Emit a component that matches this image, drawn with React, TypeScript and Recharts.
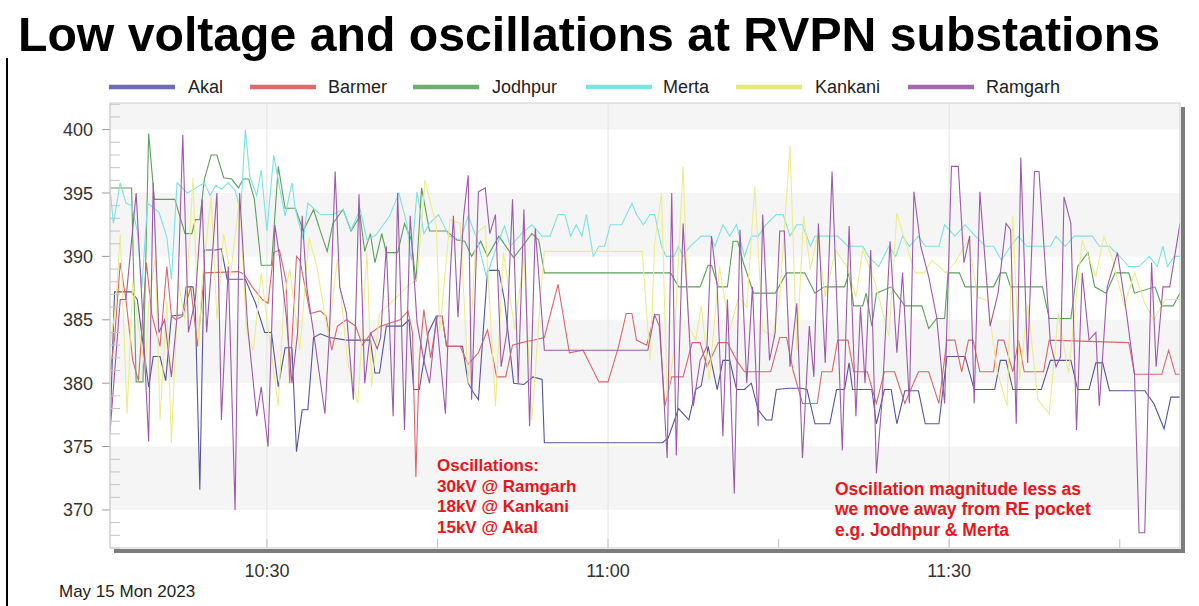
import React from "react";
import { LineChart, Line, XAxis, YAxis, ReferenceArea, ReferenceLine } from "recharts";

const FONT = "'Liberation Sans', Arial, Helvetica, sans-serif";

// time in minutes after 10:00, value in kV
const akal: [number, number][] = [
  [16.2, 376.3], [16.6, 387.2], [18.1, 387.2], [18.6, 386.6], [19.6, 379.7], [20.0, 382.1], [20.6, 382.1], [21.1, 380.2],
  [21.6, 385.3], [22.6, 385.4], [22.9, 387.6], [23.5, 387.6], [23.7, 385.9], [24.1, 371.6], [24.5, 390.5], [25.5, 390.5],
  [26.0, 390.6], [26.5, 388.2], [28.1, 388.2], [29.0, 386.3], [29.8, 384.0], [30.4, 384.0], [31.0, 379.7], [31.6, 382.8],
  [32.2, 382.8], [32.6, 374.6], [33.1, 377.9], [33.6, 377.9], [34.1, 383.6], [34.7, 383.9], [35.5, 383.6], [37.0, 383.4],
  [39.1, 383.4], [39.5, 380.8], [39.9, 380.8], [40.5, 384.5], [41.9, 384.5], [42.5, 385.0], [42.9, 379.5], [43.4, 379.5],
  [44.2, 384.0], [44.9, 385.3], [45.4, 385.3], [45.8, 382.9], [47.2, 382.9], [47.7, 380.0], [48.2, 379.2], [48.6, 378.7],
  [49.4, 388.9], [50.4, 388.9], [50.9, 386.5], [51.7, 380.0], [52.6, 379.9], [53.4, 380.5], [54.2, 380.3], [54.4, 375.3],
  [64.8, 375.3], [65.3, 375.7], [66.2, 378.0], [67.1, 377.1], [67.7, 379.5], [68.2, 379.8], [68.8, 382.9], [69.6, 379.5],
  [70.1, 381.8], [70.7, 381.8], [71.3, 379.5], [72.0, 379.5], [72.6, 380.0], [73.2, 377.9], [73.9, 377.1], [74.4, 377.1],
  [74.8, 379.5], [75.9, 379.6], [77.0, 379.6], [77.5, 379.5], [78.2, 376.8], [79.5, 376.8], [80.1, 379.5], [80.8, 379.5],
  [81.2, 381.6], [81.5, 379.5], [83.2, 379.5], [83.6, 376.8], [84.3, 379.5], [84.9, 379.5], [85.4, 376.8], [86.1, 379.4],
  [87.3, 379.4], [87.9, 376.8], [89.1, 376.8], [89.8, 382.1], [91.4, 382.1], [92.2, 379.5], [94.0, 379.5], [94.5, 381.8],
  [95.0, 381.8], [95.6, 379.5], [98.1, 379.5], [98.9, 381.8], [100.7, 381.8], [101.3, 379.5], [102.3, 379.5], [102.9, 381.6],
  [103.5, 381.6], [104.1, 379.4], [107.2, 379.4], [108.0, 378.4], [108.9, 376.4], [109.5, 378.9], [110.3, 378.9],
];

const barmer: [number, number][] = [
  [16.2, 380.8], [16.6, 383.5], [17.1, 389.5], [17.6, 386.6], [18.2, 381.8], [18.7, 380.2], [19.4, 389.5], [19.9, 385.3],
  [20.6, 382.9], [21.2, 389.2], [21.6, 385.3], [22.0, 385.0], [22.6, 385.3], [23.3, 387.6], [23.9, 382.9], [24.5, 388.7],
  [27.5, 388.8], [28.0, 388.6], [28.7, 387.6], [29.6, 386.6], [30.1, 386.3], [30.6, 390.3], [31.1, 390.5], [31.7, 388.0],
  [32.0, 380.0], [32.6, 390.0], [32.9, 389.7], [33.8, 385.5], [34.7, 385.7], [35.2, 385.3], [35.7, 382.6], [36.2, 384.5],
  [37.0, 385.0], [37.8, 384.5], [38.4, 383.0], [39.2, 384.0], [40.0, 384.5], [41.7, 385.0], [42.4, 385.7], [42.8, 384.0],
  [43.1, 372.6], [43.4, 381.8], [43.8, 385.8], [44.4, 382.0], [45.0, 385.3], [45.4, 385.3], [45.8, 382.9], [47.0, 382.9],
  [47.7, 381.5], [48.6, 382.4], [49.4, 384.2], [50.2, 380.5], [51.0, 380.5], [51.6, 383.0], [52.4, 383.2], [53.5, 383.4],
  [54.4, 383.6], [55.6, 387.8], [56.6, 382.4], [57.8, 382.6], [59.2, 380.1], [60.0, 380.1], [60.9, 382.8], [61.6, 385.5],
  [62.1, 385.5], [62.5, 383.4], [63.4, 383.0], [64.1, 385.4], [64.5, 384.5], [65.0, 378.2], [65.6, 380.5], [66.6, 380.5],
  [67.4, 383.2], [68.1, 383.2], [68.7, 381.3], [69.7, 383.2], [70.5, 383.2], [71.3, 381.8], [72.0, 380.9], [74.3, 380.9],
  [75.1, 383.6], [75.7, 383.6], [76.3, 380.9], [77.1, 378.4], [78.4, 378.4], [78.8, 380.9], [79.7, 380.9], [80.2, 383.4],
  [81.1, 383.4], [81.6, 380.9], [82.8, 380.9], [83.6, 378.4], [84.3, 380.9], [85.2, 380.9], [86.1, 378.4], [87.3, 380.9],
  [88.2, 380.9], [89.1, 378.4], [89.8, 383.4], [90.5, 383.4], [91.1, 380.9], [91.7, 383.4], [92.1, 383.4], [92.7, 380.9],
  [93.9, 380.9], [94.3, 383.4], [94.8, 383.4], [95.6, 380.9], [96.1, 383.4], [96.6, 380.9], [98.3, 380.9], [98.8, 383.4],
  [105.8, 383.2], [106.3, 380.7], [108.7, 380.7], [109.3, 382.6], [109.9, 380.7], [110.3, 380.7],
];

const jodhpur: [number, number][] = [
  [16.2, 395.4], [18.1, 395.4], [18.5, 380.1], [19.1, 380.1], [19.6, 399.7], [20.1, 394.5], [21.9, 394.5], [22.8, 391.8],
  [23.4, 391.8], [23.7, 392.9], [24.1, 392.9], [24.5, 396.1], [25.1, 398.0], [25.6, 398.0], [26.2, 396.2], [26.9, 396.1],
  [27.5, 395.4], [27.9, 396.1], [28.4, 396.1], [28.9, 394.5], [29.5, 389.3], [30.4, 389.3], [31.0, 397.1], [31.6, 393.8],
  [32.5, 393.8], [33.2, 392.0], [34.1, 393.7], [34.7, 392.0], [35.3, 390.4], [35.8, 392.6], [36.7, 393.7], [37.4, 392.0],
  [38.2, 393.2], [38.6, 390.4], [39.1, 391.8], [39.5, 389.5], [40.1, 391.8], [40.5, 390.3], [41.5, 390.3], [42.1, 392.6],
  [42.7, 391.3], [43.1, 388.0], [43.6, 395.4], [44.3, 392.0], [45.8, 392.0], [46.7, 391.3], [47.4, 391.2], [48.0, 390.0],
  [48.8, 391.2], [49.4, 390.0], [50.4, 391.6], [51.7, 389.9], [52.4, 390.7], [53.3, 391.8], [53.9, 391.3], [54.4, 388.7],
  [65.5, 388.7], [66.2, 387.6], [68.1, 387.6], [68.8, 389.3], [69.1, 389.3], [69.7, 387.6], [70.5, 387.6], [71.0, 391.2],
  [71.4, 391.2], [71.9, 389.5], [72.8, 387.1], [74.7, 387.1], [75.7, 388.7], [77.3, 388.7], [78.2, 387.1], [79.0, 387.6],
  [80.8, 387.6], [81.2, 388.7], [81.6, 386.1], [82.4, 386.1], [82.7, 387.1], [83.2, 384.5], [83.6, 387.1], [84.9, 387.6],
  [86.1, 386.1], [87.6, 386.1], [88.2, 384.3], [88.9, 385.1], [89.6, 385.1], [89.9, 388.7], [90.9, 388.7], [91.4, 387.6],
  [93.9, 387.6], [94.5, 388.7], [95.0, 388.7], [95.4, 387.6], [98.2, 387.6], [98.8, 385.1], [100.7, 385.1], [101.3, 389.2],
  [102.2, 390.3], [102.8, 387.6], [103.8, 387.1], [104.6, 388.7], [105.8, 388.7], [106.3, 387.1], [108.1, 387.6], [108.7, 386.1],
  [109.7, 386.1], [110.3, 387.1],
];

const merta: [number, number][] = [
  [16.2, 395.4], [16.5, 392.6], [17.1, 395.8], [17.6, 394.2], [18.1, 394.0], [18.6, 392.0], [19.0, 387.5], [19.5, 394.2],
  [20.5, 393.5], [21.2, 391.5], [21.6, 388.2], [22.1, 395.8], [23.0, 395.0], [24.5, 395.8], [25.0, 394.8], [25.5, 395.6],
  [26.0, 395.3], [26.6, 395.8], [27.2, 395.2], [27.7, 393.6], [28.1, 400.0], [28.5, 396.3], [29.1, 394.8], [29.5, 396.8],
  [30.0, 392.0], [30.6, 398.0], [31.1, 395.5], [31.6, 393.2], [32.2, 395.8], [32.5, 393.7], [33.2, 391.3], [33.6, 394.2],
  [34.7, 393.3], [35.8, 393.3], [36.7, 393.7], [37.4, 392.1], [38.2, 393.7], [38.8, 391.3], [39.6, 391.7], [40.8, 393.2],
  [41.6, 395.0], [42.3, 392.6], [42.7, 389.7], [43.2, 395.1], [43.8, 391.8], [44.3, 392.6], [45.1, 393.3], [46.0, 391.6],
  [47.0, 391.3], [47.7, 393.2], [48.5, 391.3], [49.3, 388.4], [50.4, 391.3], [50.9, 392.4], [51.4, 390.8], [52.4, 391.8],
  [53.3, 392.5], [54.2, 391.6], [54.9, 391.6], [55.6, 393.3], [56.2, 393.3], [56.7, 391.6], [57.2, 392.5], [57.7, 391.6],
  [58.1, 393.3], [58.7, 390.0], [59.2, 390.8], [59.7, 390.8], [60.2, 392.5], [61.2, 392.5], [62.1, 394.2], [62.5, 393.3],
  [63.1, 392.5], [63.7, 393.3], [64.1, 393.3], [64.7, 390.8], [65.1, 390.0], [65.8, 390.0], [66.2, 390.8], [66.6, 390.0],
  [67.2, 390.8], [68.2, 391.6], [69.0, 391.6], [69.4, 390.8], [70.1, 392.5], [70.7, 391.6], [71.3, 392.5], [72.0, 390.0],
  [72.6, 391.6], [73.2, 391.6], [73.9, 392.5], [74.8, 393.3], [75.4, 393.3], [76.0, 391.6], [76.6, 392.5], [77.1, 392.5],
  [77.8, 390.8], [78.2, 391.6], [80.2, 391.6], [81.1, 390.8], [82.4, 390.8], [82.9, 390.0], [83.8, 389.2], [84.7, 390.8],
  [85.3, 390.0], [85.9, 391.6], [86.5, 390.8], [87.3, 391.6], [87.9, 390.8], [89.1, 390.8], [89.6, 392.5], [90.5, 391.6],
  [91.4, 392.5], [92.3, 391.6], [93.2, 390.8], [93.9, 390.8], [94.6, 389.7], [95.4, 390.8], [96.1, 391.6], [96.8, 390.8],
  [98.9, 390.8], [99.4, 391.6], [100.2, 390.8], [101.0, 391.6], [102.6, 391.6], [103.2, 390.8], [104.1, 390.8], [105.0, 390.0],
  [105.8, 389.2], [106.7, 389.2], [107.6, 390.0], [108.3, 389.2], [108.8, 390.8], [109.2, 389.2], [109.8, 390.0], [110.3, 390.0],
];

const kankani: [number, number][] = [
  [16.2, 383.0], [16.7, 386.0], [17.1, 391.8], [17.7, 377.6], [18.2, 388.0], [18.7, 384.5], [19.3, 381.0], [19.6, 386.2],
  [20.2, 390.0], [20.6, 377.1], [21.2, 386.5], [21.6, 375.3], [22.2, 388.0], [22.8, 385.0], [23.5, 396.2], [24.0, 383.0],
  [24.3, 388.2], [25.1, 394.7], [25.6, 385.0], [26.2, 391.8], [26.8, 388.5], [27.6, 394.7], [28.2, 384.0], [28.8, 382.6],
  [29.5, 388.7], [30.0, 385.0], [31.0, 378.2], [31.5, 386.6], [32.0, 389.0], [32.9, 382.6], [33.7, 391.5], [34.4, 389.2],
  [35.4, 383.7], [36.2, 389.8], [37.1, 381.6], [38.0, 378.4], [38.8, 390.3], [39.2, 379.7], [39.9, 385.5], [41.2, 386.6],
  [42.3, 387.6], [43.2, 388.2], [43.9, 396.0], [44.9, 392.4], [45.2, 384.0], [46.1, 392.9], [47.0, 392.6], [47.7, 380.0],
  [48.4, 391.8], [49.2, 392.4], [50.1, 378.2], [50.8, 390.3], [51.8, 384.2], [52.6, 390.0], [53.3, 377.1], [54.0, 386.0],
  [54.4, 390.4], [63.0, 390.4], [63.7, 381.8], [64.1, 391.0], [64.7, 395.0], [65.2, 378.7], [65.8, 382.6], [66.6, 397.1],
  [67.1, 384.5], [67.7, 383.4], [68.2, 386.1], [68.9, 380.3], [69.8, 389.2], [70.7, 384.2], [71.5, 386.8], [72.2, 386.0],
  [72.9, 395.5], [73.6, 384.2], [74.5, 383.7], [75.1, 386.8], [76.0, 398.7], [76.6, 382.6], [77.2, 393.2], [77.8, 389.0],
  [78.4, 391.6], [79.1, 386.8], [80.0, 390.5], [81.0, 389.2], [81.8, 386.8], [82.4, 390.5], [83.4, 388.2], [84.7, 383.7],
  [85.4, 393.4], [86.1, 391.3], [87.0, 388.7], [87.8, 388.7], [88.5, 389.7], [89.7, 388.7], [90.5, 389.5], [91.7, 391.3],
  [92.5, 386.8], [93.4, 386.5], [94.2, 381.0], [95.1, 378.2], [95.6, 393.2], [96.2, 380.3], [96.9, 386.2], [97.8, 378.7],
  [98.8, 377.6], [99.6, 385.5], [100.5, 380.8], [101.7, 391.3], [102.9, 388.4], [103.6, 391.6], [104.3, 390.0], [105.4, 386.1],
  [106.3, 388.7], [107.2, 386.3], [108.0, 385.0], [109.0, 386.6], [110.3, 386.6],
];

const ramgarh: [number, number][] = [
  [16.2, 376.1], [17.1, 386.6], [17.6, 386.6], [18.5, 395.0], [19.0, 386.6], [19.6, 375.4], [20.0, 395.8], [20.5, 384.0],
  [21.0, 385.0], [21.6, 380.5], [22.1, 385.3], [22.6, 399.6], [23.1, 384.0], [23.7, 386.6], [24.3, 394.5], [24.7, 384.0],
  [25.6, 395.0], [26.0, 377.1], [26.6, 389.2], [27.2, 370.0], [27.6, 395.0], [28.3, 384.5], [29.1, 377.4], [29.5, 379.7],
  [30.1, 375.0], [30.7, 392.5], [31.1, 390.0], [31.7, 385.3], [32.2, 380.0], [32.7, 384.0], [33.1, 393.2], [33.5, 387.6],
  [34.1, 384.0], [35.1, 377.6], [35.5, 384.0], [36.0, 396.7], [36.4, 387.6], [37.0, 385.5], [37.6, 378.7], [38.1, 394.9],
  [38.6, 380.0], [39.1, 384.0], [39.7, 382.7], [40.0, 383.6], [40.5, 390.8], [41.1, 377.4], [41.5, 395.0], [42.1, 376.3],
  [42.6, 393.2], [43.2, 384.8], [43.8, 381.8], [44.3, 380.0], [44.9, 385.2], [45.7, 377.6], [46.1, 388.2], [46.4, 393.2],
  [46.8, 385.2], [47.3, 393.2], [47.7, 396.4], [48.0, 378.7], [48.6, 395.1], [49.2, 395.4], [49.6, 391.8], [50.1, 393.3],
  [50.6, 381.3], [51.1, 384.0], [51.6, 394.5], [52.1, 380.0], [52.6, 393.7], [53.1, 376.6], [53.6, 392.2], [54.4, 382.6],
  [63.5, 382.6], [64.1, 385.4], [64.5, 385.4], [65.2, 374.1], [65.6, 395.0], [66.0, 374.3], [66.6, 392.6], [67.5, 378.2],
  [68.1, 381.8], [68.7, 382.9], [69.1, 391.6], [69.6, 387.6], [70.1, 375.8], [70.5, 386.6], [71.1, 371.3], [71.6, 392.1],
  [72.2, 380.0], [72.7, 387.6], [73.2, 376.6], [73.6, 393.3], [74.2, 381.8], [74.7, 384.0], [75.1, 392.0], [75.5, 392.0],
  [76.0, 381.3], [76.6, 386.3], [77.1, 374.1], [77.7, 384.5], [78.1, 380.5], [78.5, 392.6], [79.1, 381.6], [79.7, 396.7],
  [80.6, 374.7], [81.2, 392.4], [81.8, 377.4], [82.2, 386.0], [82.6, 380.0], [83.1, 390.5], [83.6, 372.9], [84.1, 378.7],
  [84.8, 391.2], [85.4, 382.4], [85.9, 388.7], [86.5, 378.4], [86.9, 395.1], [87.5, 390.8], [88.2, 388.4], [88.9, 385.2],
  [89.6, 378.4], [90.2, 397.1], [90.8, 397.1], [91.3, 389.5], [91.8, 391.6], [92.2, 378.4], [92.7, 395.1], [93.6, 384.5],
  [94.3, 387.1], [95.0, 392.6], [95.4, 392.1], [95.9, 376.8], [96.3, 397.8], [96.9, 381.6], [97.5, 396.7], [97.9, 396.7],
  [98.9, 383.2], [99.4, 381.3], [99.8, 382.1], [100.1, 394.7], [100.7, 392.6], [101.2, 376.3], [101.7, 388.7], [102.3, 383.4],
  [102.9, 384.0], [103.2, 378.2], [103.9, 387.6], [104.8, 390.3], [105.6, 385.5], [106.3, 380.7], [106.7, 368.2], [107.2, 368.2],
  [107.8, 389.5], [108.2, 381.3], [108.8, 387.6], [109.4, 387.6], [110.3, 392.6],
];

const seriesNames = ["Akal", "Barmer", "Jodhpur", "Merta", "Kankani", "Ramgarh"];
const seriesValues = [akal, barmer, jodhpur, merta, kankani, ramgarh];
const lineColors = ["#55559a", "#d9676c", "#5e9e5e", "#7de2e2", "#ecec8c", "#9c5aa7"];
const legendColors = ["#6c6cb0", "#e06a6a", "#6fae6f", "#80e3e3", "#e6e680", "#a468ac"];
const legendLineX = [109, 250, 413, 586, 736, 908];
const legendTextX = [188, 328, 492, 663, 815, 986];

const xDomain: [number, number] = [16.2, 110.3];
const yDomain: [number, number] = [367, 402.1];
const xTicks = [30, 45, 60, 75, 90, 105];
const xTickLabels: Record<number, string> = { 30: "10:30", 60: "11:00", 90: "11:30" };
const yTicks = Array.from({ length: 36 }, (_, i) => 367 + i);
const grayBands: [number, number][] = [[400, 402.1], [390, 395], [380, 385], [370, 375]];
const vGrid = [30, 60, 90];

const title = "Low voltage and oscillations at RVPN substations";
const dateLabel = "May 15 Mon 2023";
const noteLeft = ["Oscillations:", "30kV @ Ramgarh", "18kV @ Kankani", "15kV @ Akal"];
const noteRight = ["Oscillation magnitude less as", "we move away from RE pocket", "e.g. Jodhpur & Merta"];

const YTick = (props: any) => {
  const { x, y, payload } = props;
  const ax = x + 14;
  const v = payload.value;
  const major = v % 5 === 0;
  if (major) {
    return (
      <g>
        <line x1={ax - 8} x2={ax} y1={y} y2={y} stroke="#9a9a9a" />
        <text x={ax - 17} y={y + 6.5} textAnchor="end" fontSize={18} fill="#333" fontFamily={FONT}>
          {v}
        </text>
      </g>
    );
  }
  return <line x1={ax} x2={ax + 10} y1={y} y2={y} stroke="#c4c4c4" />;
};

const XTick = (props: any) => {
  const { x, y, payload } = props;
  const ay = y - 8;
  const lbl = xTickLabels[payload.value];
  return (
    <g>
      <line x1={x} x2={x} y1={ay} y2={ay - 9} stroke="#c0c0c0" />
      {lbl ? (
        <text x={x} y={ay + 28.5} textAnchor="middle" fontSize={18} fill="#333" fontFamily={FONT}>
          {lbl}
        </text>
      ) : null}
    </g>
  );
};

export default function App() {
  const datasets = seriesValues.map((s) => s.map(([t, v]) => ({ t, v })));
  return (
    <div style={{ position: "absolute", left: 0, top: 0, width: 1199, height: 606, background: "#fff", overflow: "hidden" }}>
      <LineChart width={1199} height={606} margin={{ top: 103, right: 19, bottom: 28, left: 50 }}>
        <XAxis
          type="number"
          dataKey="t"
          domain={xDomain}
          allowDataOverflow
          ticks={xTicks}
          interval={0}
          tickSize={6}
          tickMargin={2}
          tickLine={false}
          axisLine={false}
          height={30}
          tick={<XTick />}
        />
        <YAxis
          type="number"
          domain={yDomain}
          allowDataOverflow
          ticks={yTicks}
          interval={0}
          tickSize={6}
          tickMargin={8}
          tickLine={false}
          axisLine={{ stroke: "#cfcfcf" }}
          width={60}
          tick={<YTick />}
        />
        {grayBands.map(([a, b], i) => (
          <ReferenceArea key={"b" + i} y1={a} y2={b} fill="#f5f5f5" fillOpacity={1} stroke="none" />
        ))}
        {vGrid.map((v) => (
          <ReferenceLine key={"g" + v} x={v} stroke="#e3e3e3" strokeWidth={1} />
        ))}
        {datasets.map((d, i) => (
          <Line
            key={seriesNames[i]}
            data={d}
            dataKey="v"
            name={seriesNames[i]}
            type="linear"
            stroke={lineColors[i]}
            strokeWidth={1.1}
            dot={false}
            activeDot={false}
            isAnimationActive={false}
          />
        ))}
      </LineChart>
      <svg
        width={1199}
        height={606}
        style={{ position: "absolute", left: 0, top: 0, pointerEvents: "none" }}
      >
        <text
          x={18}
          y={51}
          fontSize={48}
          fontWeight="bold"
          fontFamily={FONT}
          fill="#000"
          textLength={1142}
          lengthAdjust="spacingAndGlyphs"
        >
          {title}
        </text>
        <line x1={7} x2={7} y1={58} y2={606} stroke="#000" strokeWidth={2} />
        {seriesNames.map((n, i) => (
          <g key={"l" + n}>
            <line x1={legendLineX[i]} x2={legendLineX[i] + 66} y1={87} y2={87} stroke={legendColors[i]} strokeWidth={4.5} />
            <text x={legendTextX[i]} y={93} fontSize={18} fill="#222" fontFamily={FONT}>
              {n}
            </text>
          </g>
        ))}
        <rect x={110} y={103} width={1070} height={445} fill="none" stroke="#cfcfcf" strokeWidth={1} />
        <rect x={114} y={549} width={1071} height={4} fill="#7c7c7c" />
        <rect x={1181} y={107} width={4} height={446} fill="#7c7c7c" />
        <text x={59} y={597} fontSize={17} fill="#222" fontFamily={FONT}>
          {dateLabel}
        </text>
        {noteLeft.map((s, i) => (
          <text key={"nl" + i} x={437} y={471 + i * 20.7} fontSize={17} fontWeight="bold" fill="#e8161b" fontFamily={FONT}>
            {s}
          </text>
        ))}
        {noteRight.map((s, i) => (
          <text key={"nr" + i} x={835} y={495 + i * 20.3} fontSize={17.5} fontWeight="bold" fill="#e8161b" fontFamily={FONT}>
            {s}
          </text>
        ))}
      </svg>
    </div>
  );
}
